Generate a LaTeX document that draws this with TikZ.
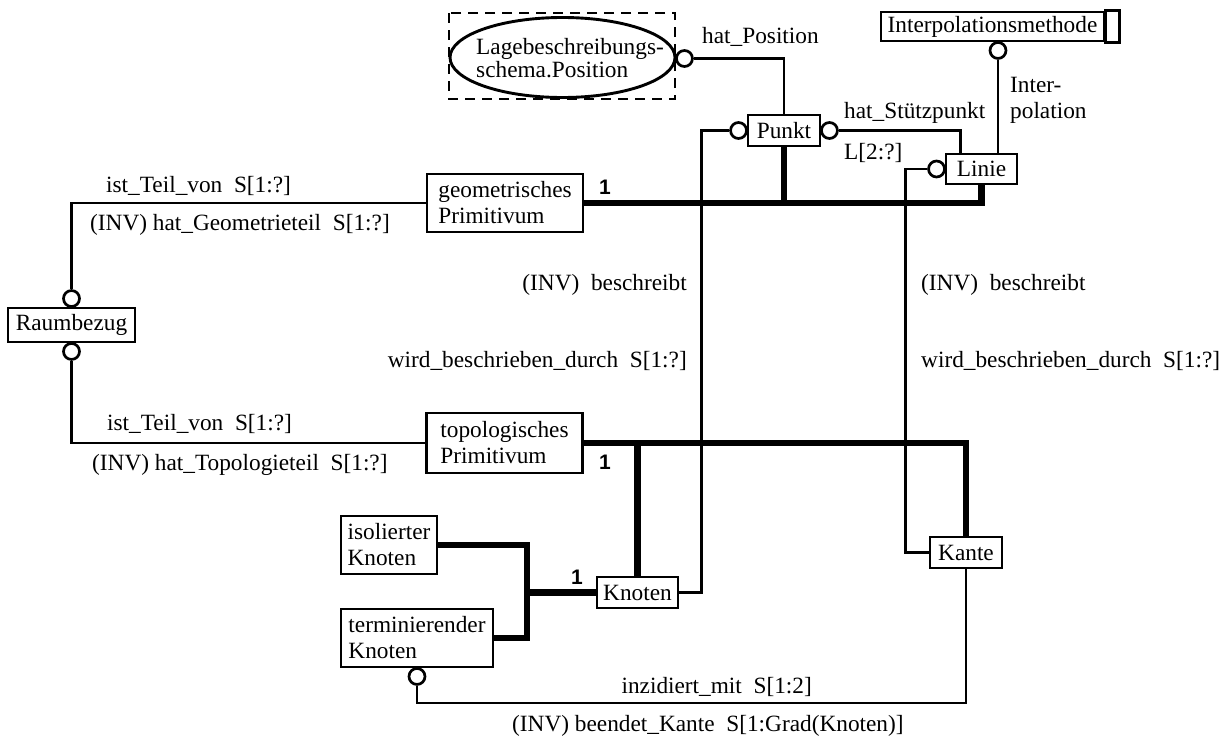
\documentclass[tikz,border=0pt]{standalone}
\usepackage{fontspec}
\setmainfont{Liberation Serif}
\newfontfamily\onefont{Liberation Sans}
\usetikzlibrary{calc,shapes.geometric}
\begin{document}
\begin{tikzpicture}[x=1pt,y=-1pt,
  every node/.style={font=\fontsize{23.3}{26}\selectfont, inner sep=0pt},
  box/.style={draw, line width=2.9pt, fill=white, align=left},
  ring/.style={circle, draw, line width=2.7pt, fill=white, minimum size=16pt, inner sep=0pt},
  conn/.style={line width=2.9pt},
  heavy/.style={line width=6.5pt},
  lbl/.style={anchor=base west},
  rlbl/.style={anchor=base east},
  one/.style={font=\onefont\bfseries\fontsize{21}{21}\selectfont}]
\useasboundingbox (0,0) rectangle (1226,736);

% classes
\node[box, minimum width=156pt, minimum height=58pt] (geo) at (505,203) {geometrisches\\Primitivum};
\node[box, minimum width=156pt, minimum height=60pt] (topo) at (504.5,443) {topologisches\\Primitivum};
\node[box, minimum width=127pt, minimum height=34pt] (raum) at (71.5,325) {Raumbezug};
\node[box, minimum width=72pt, minimum height=31pt] (punkt) at (784,130.5) {Punkt};
\node[box, minimum width=71pt, minimum height=30pt] (linie) at (981.5,169) {Linie};
\node[box, minimum width=223pt, minimum height=29pt] (ip) at (992.5,26.5) {Interpolationsmethode};
\draw[line width=2.6pt] (ip.north east) rectangle ($(ip.south east)+(14,0)$);
\node[box, minimum width=81pt, minimum height=31pt] (kn) at (637.5,592.5) {Knoten};
\node[box, minimum width=72pt, minimum height=31pt] (ka) at (966,552.5) {Kante};
\node[box, minimum width=96pt, minimum height=58pt] (iso) at (389,545) {isolierter\\Knoten};
\node[box, minimum width=152pt, minimum height=58pt] (term) at (417,638) {terminierender\\Knoten};

% external schema
\draw[line width=2.6pt, dash pattern=on 10pt off 7pt] (449,13) rectangle (675,99);
\node[ellipse, draw, line width=2.9pt, minimum width=225pt, minimum height=80pt] (lage) at (562.5,57.5) {};
\node[align=left, font=\fontsize{23.3}{23}\selectfont] (lagetxt) at (570,58) {Lagebeschreibungs-\\schema.Position};

% rings
\node[ring] (c1) at ($(lage.east)+(8,1)$) {};
\node[ring] (c2) at ($(punkt.west)+(-8,0)$) {};
\node[ring] (c3) at ($(punkt.east)+(8,0)$) {};
\node[ring] (c4) at ($(ip.south)+(5.5,8)$) {};
\node[ring] (c5) at ($(linie.west)+(-8,0)$) {};
\node[ring] (c6) at ($(raum.north)+(0,-8)$) {};
\node[ring] (c7) at ($(raum.south)+(0,8)$) {};
\node[ring] (c8) at ($(term.south)+(0,8)$) {};

% thin connectors
\draw[conn] (c1.east) -| (punkt.north);
\draw[conn] (c2.west) -- ++(-27.5,0) |- (kn.east);
\draw[conn] (c3.east) -| ($(linie.north west)+(16,0)$);
\draw[conn] (c4.south) -- (c4.south |- linie.north);
\draw[conn] (c5.west) -- ++(-21.5,0) |- (ka.west);
\draw[conn] (c6.north) |- (geo.west);
\draw[conn] (c7.south) |- (topo.west);
\coordinate (bot) at (0,703);
\draw[conn] (c8.south) -- (c8.south |- bot) -| (ka.south);

% generalisation (thick)
\draw[heavy] (geo.east) -- (geo.east -| linie.south) -- (linie.south);
\draw[heavy] (punkt.south) -- (punkt.south |- geo.east);
\draw[heavy] (topo.east) -| (ka.north);
\draw[heavy] (kn.north) -- (kn.north |- topo.east);
\coordinate (j) at (527,592.5);
\draw[heavy] (iso.east) -| (j) |- (term.east);
\draw[heavy] (j) -- (kn.west);

% labels
\node[lbl] (t1) at (106,192) {ist\_Teil\_von\ \ S[1:?]};
\node[lbl] (t2) at (90,230.7) {(INV) hat\_Geometrieteil\ \ S[1:?]};
\node[lbl] (t3) at (107,430) {ist\_Teil\_von\ \ S[1:?]};
\node[lbl] (t4) at (92,470) {(INV) hat\_Topologieteil\ \ S[1:?]};
\node[rlbl] (t5) at (687,290) {(INV)\ \ beschreibt};
\node[rlbl] (t6) at (687,367) {wird\_beschrieben\_durch\ \ S[1:?]};
\node[lbl] (t7) at (921,290) {(INV)\ \ beschreibt};
\node[lbl] (t8) at (921,367) {wird\_beschrieben\_durch\ \ S[1:?]};
\node[rlbl] (t9) at (812,693) {inzidiert\_mit\ \ S[1:2]};
\node[lbl] (t10) at (512,731) {(INV) beendet\_Kante\ \ S[1:Grad(Knoten)]};
\node[lbl] (t11) at (702,43) {hat\_Position};
\node[lbl] (t12) at (844,118) {hat\_Stützpunkt};
\node[lbl] (t13) at (844,159) {L[2:?]};
\node[lbl] (t14) at (1010,92) {Inter-};
\node[lbl] (t15) at (1010,118) {polation};
\node[one] (n1) at (605,187) {1};
\node[one] (n2) at (605,462) {1};
\node[one] (n3) at (577,577) {1};
\end{tikzpicture}
\end{document}
